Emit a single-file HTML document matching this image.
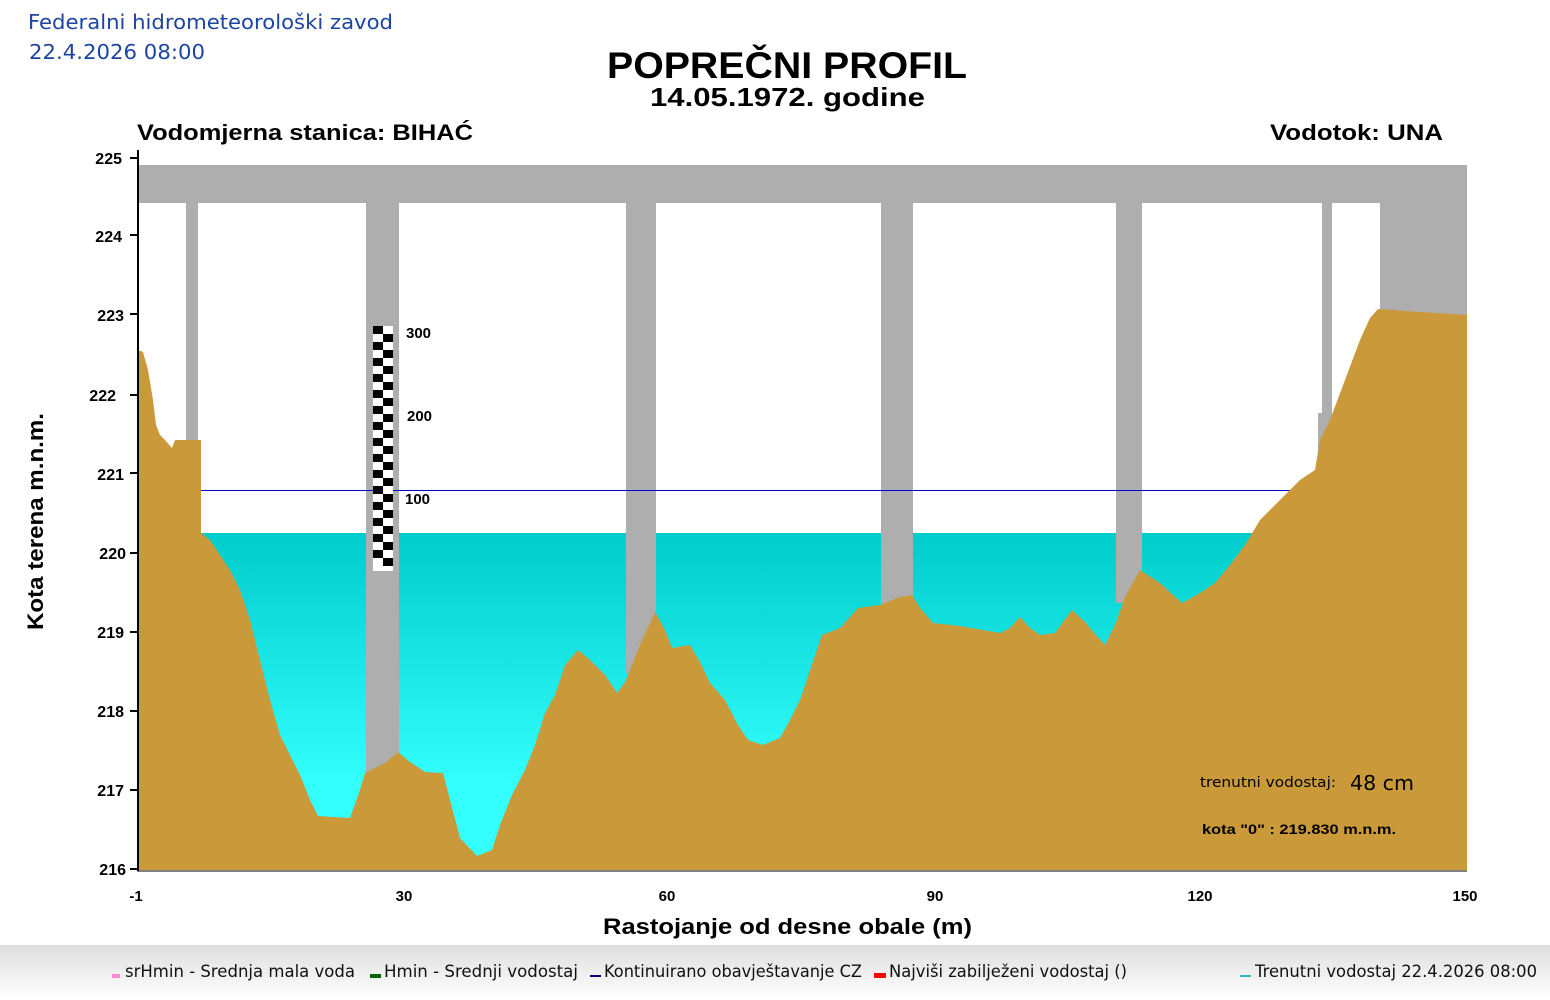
<!DOCTYPE html><html><head><meta charset="utf-8"><style>body{margin:0;background:#fff}svg{display:block}</style></head><body>
<svg width="1550" height="1000" xmlns="http://www.w3.org/2000/svg" font-family="Liberation Sans, sans-serif">
<defs>
<linearGradient id="w" x1="0" y1="0" x2="0" y2="1"><stop offset="0" stop-color="#00cccc"/><stop offset="0.75" stop-color="#33ffff"/><stop offset="1" stop-color="#33ffff"/></linearGradient>
<linearGradient id="lg" x1="0" y1="0" x2="0" y2="1"><stop offset="0" stop-color="#dedede"/><stop offset="1" stop-color="#ffffff"/></linearGradient>
</defs>
<text x="28" y="29" font-size="20" fill="#1d45a0" font-family="DejaVu Sans, sans-serif" textLength="365" lengthAdjust="spacingAndGlyphs">Federalni hidrometeorološki zavod</text>
<text x="29" y="59" font-size="20" fill="#1d45a0" font-family="DejaVu Sans, sans-serif" textLength="176" lengthAdjust="spacingAndGlyphs">22.4.2026 08:00</text>
<text x="607" y="78" font-size="37" font-weight="bold" textLength="360" lengthAdjust="spacingAndGlyphs">POPREČNI PROFIL</text>
<text x="650" y="106" font-size="26" font-weight="bold" textLength="275" lengthAdjust="spacingAndGlyphs">14.05.1972. godine</text>
<text x="137" y="140" font-size="22" font-weight="bold" textLength="336" lengthAdjust="spacingAndGlyphs">Vodomjerna stanica: BIHAĆ</text>
<text x="1270" y="140" font-size="22" font-weight="bold" textLength="173" lengthAdjust="spacingAndGlyphs">Vodotok: UNA</text>
<rect x="138" y="533" width="1329" height="337" fill="url(#w)"/>
<rect x="138" y="165" width="1329" height="38" fill="#aeaeae"/>
<g fill="#aeaeae">
<rect x="186" y="203" width="12" height="240"/>
<rect x="366" y="203" width="33" height="600"/>
<rect x="626" y="203" width="30" height="470"/>
<rect x="881" y="203" width="32" height="420"/>
<rect x="1116" y="203" width="26" height="400"/>
<rect x="1322" y="203" width="10" height="240"/>
<rect x="1318" y="413" width="14" height="60"/>
<rect x="1380" y="203" width="87" height="112"/>
</g>
<rect x="138" y="490" width="1162" height="1" fill="#0000cc"/>
<polygon fill="#c9993a" points="138,870 138,350 143,352 148,370 153,400 156,425 160,435 165,440 172,448 175,440 201,440 201,533 210,540 220,555 230,570 240,590 250,620 260,660 270,700 280,735 290,755 300,775 310,800 318,816 350,818 360,790 365,773 385,763 398,752 410,762 425,772 443,773 450,800 460,838 477,856 492,850 500,825 512,795 525,770 535,745 545,713 555,695 565,665 578,650 590,660 605,675 617,693 625,682 640,645 655,612 665,630 672,648 690,645 700,662 710,683 725,700 738,725 748,740 763,745 780,738 790,720 800,700 810,670 822,635 840,628 858,608 880,605 900,597 912,595 920,608 933,623 960,626 1000,633 1010,628 1020,617 1030,628 1040,635 1055,633 1072,610 1085,622 1095,634 1105,645 1115,625 1125,597 1140,570 1160,583 1182,603 1200,593 1215,583 1230,565 1245,545 1260,520 1275,505 1290,490 1300,480 1315,470 1320,440 1330,420 1345,380 1360,340 1370,318 1378,309 1420,312 1467,315 1467,870"/>
<rect x="373" y="326" width="20" height="245" fill="#fff"/>
<g fill="#000">
<rect x="373" y="326" width="10" height="8"/><rect x="383" y="334" width="10" height="8"/>
<rect x="373" y="342" width="10" height="8"/><rect x="383" y="350" width="10" height="8"/>
<rect x="373" y="358" width="10" height="8"/><rect x="383" y="366" width="10" height="8"/>
<rect x="373" y="374" width="10" height="8"/><rect x="383" y="382" width="10" height="8"/>
<rect x="373" y="390" width="10" height="8"/><rect x="383" y="398" width="10" height="8"/>
<rect x="373" y="406" width="10" height="8"/><rect x="383" y="414" width="10" height="8"/>
<rect x="373" y="422" width="10" height="8"/><rect x="383" y="430" width="10" height="8"/>
<rect x="373" y="438" width="10" height="8"/><rect x="383" y="446" width="10" height="8"/>
<rect x="373" y="454" width="10" height="8"/><rect x="383" y="462" width="10" height="8"/>
<rect x="373" y="470" width="10" height="8"/><rect x="383" y="478" width="10" height="8"/>
<rect x="373" y="486" width="10" height="8"/><rect x="383" y="494" width="10" height="8"/>
<rect x="373" y="502" width="10" height="8"/><rect x="383" y="510" width="10" height="8"/>
<rect x="373" y="518" width="10" height="8"/><rect x="383" y="526" width="10" height="8"/>
<rect x="373" y="534" width="10" height="8"/><rect x="383" y="542" width="10" height="8"/>
<rect x="373" y="550" width="10" height="8"/><rect x="383" y="558" width="10" height="8"/>
</g>
<g font-size="15" font-weight="bold">
<text x="406" y="338">300</text><text x="407" y="421">200</text><text x="405" y="504">100</text>
</g>
<line x1="138" y1="150" x2="138" y2="871" stroke="#000" stroke-width="2"/>
<line x1="137" y1="871" x2="1467" y2="871" stroke="#000" stroke-width="1"/>
<g stroke="#000" stroke-width="2">
<line x1="130" y1="158" x2="138" y2="158"/><line x1="130" y1="235" x2="138" y2="235"/><line x1="130" y1="314" x2="138" y2="314"/><line x1="130" y1="395" x2="138" y2="395"/><line x1="130" y1="473" x2="138" y2="473"/><line x1="130" y1="553" x2="138" y2="553"/><line x1="130" y1="632" x2="138" y2="632"/><line x1="130" y1="711" x2="138" y2="711"/><line x1="130" y1="790" x2="138" y2="790"/><line x1="130" y1="869" x2="138" y2="869"/>
</g>
<g font-size="16" font-weight="bold" text-anchor="end">
<text x="122" y="164">225</text><text x="122" y="242">224</text><text x="124" y="321">223</text><text x="116" y="401">222</text><text x="124" y="480">221</text><text x="126" y="559">220</text><text x="124" y="638">219</text><text x="124" y="717">218</text><text x="124" y="796">217</text><text x="126" y="875">216</text>
</g>
<g font-size="15" font-weight="bold" text-anchor="middle">
<text x="136" y="901">-1</text><text x="404" y="901">30</text><text x="667" y="901">60</text><text x="935" y="901">90</text><text x="1200" y="901">120</text><text x="1465" y="901">150</text>
</g>
<text x="603" y="934" font-size="22" font-weight="bold" textLength="369" lengthAdjust="spacingAndGlyphs">Rastojanje od desne obale (m)</text>
<text transform="translate(43,630) rotate(-90)" font-size="22" font-weight="bold" textLength="217" lengthAdjust="spacingAndGlyphs">Kota terena m.n.m.</text>
<text x="1200" y="787" font-size="14" font-family="DejaVu Sans, sans-serif" textLength="136" lengthAdjust="spacingAndGlyphs">trenutni vodostaj:</text>
<text x="1350" y="790" font-size="20" font-family="DejaVu Sans, sans-serif" textLength="64" lengthAdjust="spacingAndGlyphs">48 cm</text>
<text x="1202" y="834" font-size="14" font-weight="bold" textLength="194" lengthAdjust="spacingAndGlyphs">kota "0" : 219.830 m.n.m.</text>
<rect x="0" y="945" width="1550" height="55" fill="url(#lg)"/>
<g font-size="17" fill="#111" font-family="DejaVu Sans, sans-serif">
<rect x="112" y="974" width="8" height="4" fill="#ff88cc"/><text x="125" y="977" textLength="230" lengthAdjust="spacingAndGlyphs">srHmin - Srednja mala voda</text>
<rect x="370" y="974" width="11" height="4" fill="#006600"/><text x="384" y="977" textLength="194" lengthAdjust="spacingAndGlyphs">Hmin - Srednji vodostaj</text>
<rect x="590" y="975" width="11" height="2" fill="#000080"/><text x="604" y="977" textLength="258" lengthAdjust="spacingAndGlyphs">Kontinuirano obavještavanje CZ</text>
<rect x="874" y="973" width="12" height="5" fill="#ff0000"/><text x="889" y="977" textLength="238" lengthAdjust="spacingAndGlyphs">Najviši zabilježeni vodostaj ()</text>
<rect x="1240" y="975" width="11" height="2" fill="#33bbbb"/><text x="1255" y="977" textLength="282" lengthAdjust="spacingAndGlyphs">Trenutni vodostaj 22.4.2026 08:00</text>
</g>
</svg></body></html>
